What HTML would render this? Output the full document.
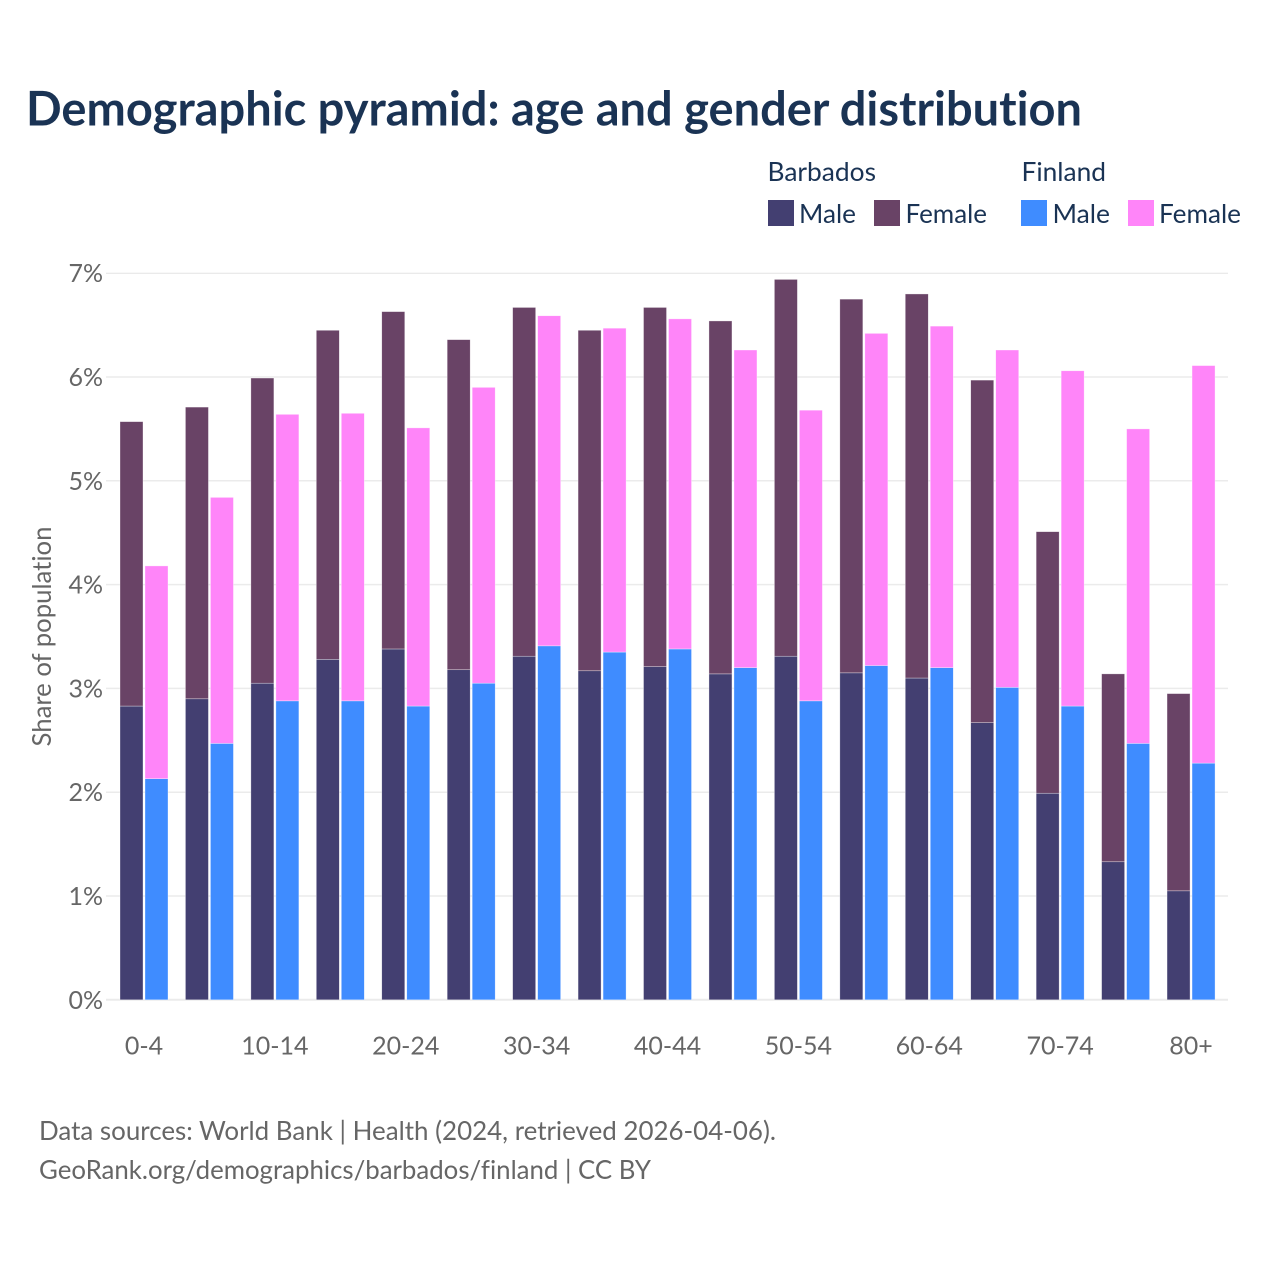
<!DOCTYPE html>
<html lang="en">
<head>
<meta charset="utf-8">
<title>Demographic pyramid: age and gender distribution</title>
<style>
html,body{margin:0;padding:0;background:#fff;}
svg{display:block;}
text{font-family:"Lato","Carlito","Liberation Sans",sans-serif;font-variant-ligatures:none;font-feature-settings:"liga" 0,"clig" 0;}
</style>
</head>
<body>
<svg id="chart" xmlns="http://www.w3.org/2000/svg" width="1280" height="1280" viewBox="0 0 1280 1280">
  <rect x="0" y="0" width="1280" height="1280" fill="#ffffff"/>
  <text x="26" y="125.5" font-size="48" font-weight="700" fill="#1a3354" textLength="1056" lengthAdjust="spacingAndGlyphs">Demographic pyramid: age and gender distribution</text>

  <g font-size="26" fill="#1a3354">
    <text x="767.5" y="181" textLength="108.5" lengthAdjust="spacingAndGlyphs">Barbados</text>
    <text x="1021.5" y="181" textLength="84.5" lengthAdjust="spacingAndGlyphs">Finland</text>
    <rect x="768" y="200" width="26" height="26" fill="#433f71"/>
    <text x="799" y="223" textLength="57" lengthAdjust="spacingAndGlyphs">Male</text>
    <rect x="874" y="200" width="26" height="26" fill="#694366"/>
    <text x="905.5" y="223" textLength="81.5" lengthAdjust="spacingAndGlyphs">Female</text>
    <rect x="1021" y="200" width="26" height="26" fill="#3f8cff"/>
    <text x="1052.5" y="223" textLength="57.5" lengthAdjust="spacingAndGlyphs">Male</text>
    <rect x="1128" y="200" width="26" height="26" fill="#ff85f9"/>
    <text x="1159" y="223" textLength="82" lengthAdjust="spacingAndGlyphs">Female</text>
  </g>

  <g id="grid"></g>
  <g id="y-axis"></g>
  <g id="bars"></g>
  <g id="x-axis"></g>

  <text transform="translate(51,636.5) rotate(-90)" text-anchor="middle" font-size="26" fill="#666666" textLength="220" lengthAdjust="spacingAndGlyphs">Share of population</text>

  <text x="39" y="1140" font-size="26" fill="#666666" textLength="737" lengthAdjust="spacingAndGlyphs">Data sources: World Bank | Health (2024, retrieved 2026-04-06).</text>
  <text x="39" y="1179" font-size="26" fill="#666666" textLength="612" lengthAdjust="spacingAndGlyphs">GeoRank.org/demographics/barbados/finland | CC BY</text>
</svg>
<script>
const ageGroups = ["0-4","5-9","10-14","15-19","20-24","25-29","30-34","35-39","40-44","45-49","50-54","55-59","60-64","65-69","70-74","75-79","80+"];
const xTickLabels = ["0-4","10-14","20-24","30-34","40-44","50-54","60-64","70-74","80+"];
const yTickValues = [0,1,2,3,4,5,6,7];
const barbadosMale = [2.83,2.90,3.05,3.28,3.38,3.18,3.31,3.17,3.21,3.14,3.31,3.15,3.10,2.67,1.99,1.33,1.05];
const barbadosFemale = [2.74,2.81,2.94,3.17,3.25,3.18,3.36,3.28,3.46,3.40,3.63,3.60,3.70,3.30,2.52,1.81,1.90];
const finlandMale = [2.13,2.47,2.88,2.88,2.83,3.05,3.41,3.35,3.38,3.20,2.88,3.22,3.20,3.01,2.83,2.47,2.28];
const finlandFemale = [2.05,2.37,2.76,2.77,2.68,2.85,3.18,3.12,3.18,3.06,2.80,3.20,3.29,3.25,3.23,3.03,3.83];

const SVG_NS = "http://www.w3.org/2000/svg";
const yZero = 999.8, yPerUnit = 103.8;
const firstCenter = 144, bandStep = 65.44;
const barWidth = 23;
function yScale(v){ return yZero - v * yPerUnit; }
function xCenter(label){ return firstCenter + ageGroups.indexOf(label) * bandStep; }
function addNode(parent, tag, attrs){
  const el = document.createElementNS(SVG_NS, tag);
  for (const k in attrs) el.setAttribute(k, attrs[k]);
  parent.appendChild(el);
  return el;
}

const gridGroup = document.getElementById("grid");
const yAxisGroup = document.getElementById("y-axis");
yTickValues.forEach(function(v){
  const isTop = v === yTickValues[yTickValues.length - 1];
  const line = addNode(gridGroup, "line", {x1:106, x2:1228, y1:yScale(v), y2:yScale(v), stroke:isTop ? "#e4e4e4" : "#ebebeb", "stroke-width":v === 0 ? 2 : (isTop ? 1 : 1.5)});
  
  
  const label = addNode(yAxisGroup, "text", {x:103, y:yScale(v) + 9, "text-anchor":"end", "font-size":25, fill:"#666666"});
  
  
  label.textContent = v + "%";
});

const barsGroup = document.getElementById("bars");
function drawSegment(x, base, value, fill, name){
  const rect = addNode(barsGroup, "rect", {x:x, y:yScale(base + value), width:barWidth, height:value * yPerUnit, fill:fill, stroke:"#ffffff", "stroke-width":0.6, "stroke-opacity":0.55});
  
  
}
ageGroups.forEach(function(age, i){
  const c = xCenter(age);
  const xB = c - 24, xF = c + 1;
  drawSegment(xB, 0, barbadosMale[i], "#433f71", "bar-barbados-male");
  drawSegment(xB, barbadosMale[i], barbadosFemale[i], "#694366", "bar-barbados-female");
  drawSegment(xF, 0, finlandMale[i], "#3f8cff", "bar-finland-male");
  drawSegment(xF, finlandMale[i], finlandFemale[i], "#ff85f9", "bar-finland-female");
});

const xAxisGroup = document.getElementById("x-axis");
xTickLabels.forEach(function(t){
  const label = addNode(xAxisGroup, "text", {x:xCenter(t), y:1054.5, "text-anchor":"middle", "font-size":25, fill:"#666666"});
  
  
  label.textContent = t;
});
</script>
</body>
</html>
